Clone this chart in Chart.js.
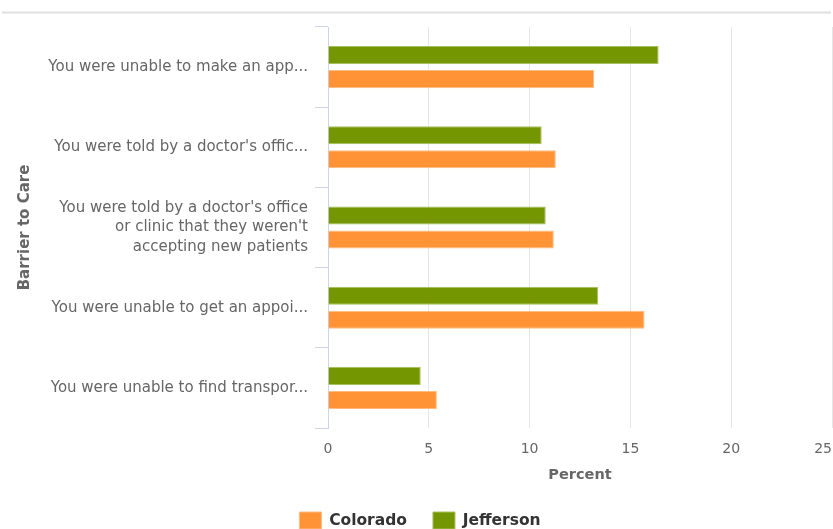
<!DOCTYPE html>
<html>
<head>
<meta charset="utf-8">
<script src="https://cdn.jsdelivr.net/npm/chart.js@4/dist/chart.umd.min.js"></script>
<style>
html,body{margin:0;padding:0;background:#fff;overflow:hidden;}
#wrap{position:relative;width:833px;height:539px;}
</style>
</head>
<body>
<div id="wrap"><canvas id="c"></canvas></div>
<script>
const categories = [
  "You were unable to make an app...",
  "You were told by a doctor's offic...",
  ["You were told by a doctor's office", "or clinic that they weren't", "accepting new patients"],
  "You were unable to get an appoi...",
  "You were unable to find transpor..."
];
const jeffersonValues = [16.4, 10.6, 10.8, 13.4, 4.6];
const coloradoValues = [13.2, 11.3, 11.2, 15.7, 5.4];
const xTicks = [0, 5, 10, 15, 20, 25];

const FONT = "'DejaVu Sans', Verdana, sans-serif";

const topLine = {
  id: 'topLine',
  afterLayout(chart) {
    if (chart.legend) { chart.legend.left += 4; chart.legend.right += 4; }
  },
  beforeDraw(chart) {
    const ctx = chart.ctx;
    ctx.save();
    ctx.strokeStyle = '#e0e0e0';
    ctx.lineWidth = 2;
    ctx.beginPath();
    ctx.moveTo(2, 12.5);
    ctx.lineTo(831, 12.5);
    ctx.stroke();
    ctx.restore();
  }
};

new Chart(document.getElementById('c'), {
  type: 'bar',
  data: {
    labels: categories,
    datasets: [
      {
        label: 'Jefferson',
        data: jeffersonValues,
        backgroundColor: '#749600',
        borderColor: '#a6bf5a',
        borderWidth: 1,
        categoryPercentage: 0.6,
        barPercentage: 0.75
      },
      {
        label: 'Colorado',
        data: coloradoValues,
        backgroundColor: '#FF9335',
        borderColor: '#ffbb80',
        borderWidth: 1,
        categoryPercentage: 0.6,
        barPercentage: 0.75
      }
    ]
  },
  options: {
    indexAxis: 'y',
    responsive: true,
    maintainAspectRatio: false,
    animation: false,
    layout: { padding: { top: 27, right: 1, left: 0, bottom: 0 } },
    plugins: {
      tooltip: { enabled: false },
      legend: {
        position: 'bottom',
        reverse: true,
        labels: {
          boxWidth: 22,
          boxHeight: 17,
          padding: 26,
          color: '#333',
          font: { family: FONT, size: 15.5, weight: 'bold' }
        }
      }
    },
    scales: {
      x: {
        min: 0,
        max: 25,
        afterBuildTicks(scale) { scale.ticks = xTicks.map(v => ({ value: v })); },
        border: { display: false },
        grid: {
          color: ctx => ctx.index === 0 ? 'rgba(0,0,0,0)' : '#e6e6e6',
          lineWidth: 1,
          drawTicks: false
        },
        ticks: {
          color: '#666',
          padding: 13,
          font: { family: FONT, size: 14 },
          callback(value, index, ticks) {
            return index === ticks.length - 1 ? value + '\u2007\u2007' : String(value);
          }
        },
        title: {
          display: true,
          text: 'Percent',
          color: '#666',
          padding: { top: 0, bottom: 1.6 },
          font: { family: FONT, size: 14.5, weight: 'bold' }
        },
        afterFit(scale) { scale.height = 58; scale.paddingRight = 0; scale.paddingLeft = 0; }
      },
      y: {
        border: { color: '#ccd6eb', width: 1 },
        grid: {
          offset: true,
          drawOnChartArea: false,
          color: '#ccd6eb',
          tickLength: 13
        },
        ticks: {
          color: '#666',
          padding: 7,
          font: { family: FONT, size: 15, lineHeight: 1.3 }
        },
        title: {
          display: true,
          text: 'Barrier to Care',
          color: '#666',
          padding: { top: 16, bottom: 0 },
          font: { family: FONT, size: 15, weight: 'bold' }
        },
        afterFit(scale) { scale.width = 328; scale.paddingTop = 0; scale.paddingBottom = 0; }
      }
    }
  },
  plugins: [topLine]
});
</script>
</body>
</html>
